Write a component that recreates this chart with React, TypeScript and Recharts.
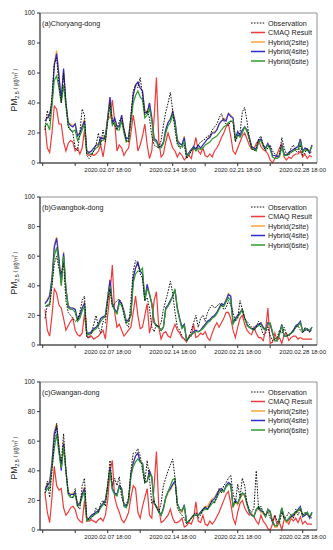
import React from "react";
import { LineChart, Line, XAxis, YAxis, ReferenceArea } from "recharts";

// 6-hourly samples, days since 2020.02.01 00:00
const TIME = Array.from({ length: 116 }, (_, i) => i * 0.25);

const X_TICKS = [-0.25, 3.25, 6.75, 10.25, 13.75, 17.25, 20.75, 24.25, 27.75];
const X_TICK_LABELS = ["", "", "2020.02.07 18:00", "", "2020.02.14 18:00", "", "2020.02.21 18:00", "", "2020.02.28 18:00"];
const Y_TICKS = [0, 20, 40, 60, 80, 100];

// (a) Choryang-dong
const CHORYANG_OBS = [
  22, 35, 28, 45, 66, 70, 52, 40, 60, 40,
  24, 22, 20, 10, 8, 20, 36, 32, 5, 3,
  5, 8, 12, 20, 12, 22, 14, 28, 40, 28,
  25, 22, 28, 30, 22, 15, 14, 32, 48, 52,
  50, 57, 45, 32, 35, 30, 18, 12, 11, 10,
  15, 25, 34, 40, 47, 35, 22, 12, 10, 10,
  12, 3, 5, 8, 10, 10, 12, 14, 15, 16,
  18, 18, 22, 24, 26, 30, 33, 28, 26, 25,
  28, 27, 14, 18, 20, 34, 37, 28, 16, 10,
  8, 10, 16, 18, 12, 8, 10, 12, 8, 6,
  5, 6, 17, 10, 6, 5, 10, 12, 8, 7,
  12, 5, 7, 10, 6, 8,
];
const CHORYANG_CMAQ = [
  25, 10, 7, 20, 38, 36, 26, 26, 14, 8,
  13, 15, 14, 8, 10, 6, 10, 22, 6, 5,
  6, 5, 6, 8, 12, 4, 14, 30, 30, 42,
  28, 8, 12, 10, 5, 8, 10, 20, 32, 22,
  8, 12, 18, 26, 12, 3, 8, 30, 57, 15,
  4, 6, 14, 20, 15, 10, 8, 4, 7, 5,
  2, 4, 5, 3, 10, 17, 8, 6, 10, 5,
  4, 6, 4, 8, 10, 13, 17, 20, 24, 26,
  18, 8, 6, 10, 14, 18, 20, 16, 12, 9,
  9, 13, 15, 11, 9, 8, 6, 2, 0, 3,
  6, 10, 13, 4, 2, 4, 3, 5, 6, 6,
  8, 4, 6, 3, 5, 4,
];
const CHORYANG_H2 = [
  28, 31, 33, 42, 67, 75, 60, 43, 62, 41,
  27, 26, 25, 26, 19, 20, 25, 29, 8, 7,
  8, 10, 12, 13, 17, 17, 18, 31, 44, 27,
  30, 25, 24, 32, 23, 16, 17, 31, 46, 52,
  53, 50, 48, 35, 34, 40, 31, 17, 15, 12,
  11, 14, 23, 27, 30, 35, 28, 16, 13, 12,
  18, 5, 7, 9, 11, 9, 12, 10, 12, 14,
  16, 18, 20, 21, 22, 26, 28, 30, 29, 33,
  32, 30, 16, 21, 19, 22, 24, 22, 17, 11,
  10, 9, 15, 16, 12, 10, 13, 10, 5, 5,
  4, 5, 12, 6, 5, 7, 8, 9, 10, 11,
  16, 8, 10, 9, 7, 12,
];
const CHORYANG_H4 = [
  28, 30, 32, 40, 65, 73, 58, 42, 63, 40,
  27, 25, 24, 26, 18, 20, 24, 28, 8, 7,
  8, 10, 12, 12, 17, 16, 18, 30, 44, 26,
  30, 24, 24, 32, 22, 16, 17, 30, 45, 52,
  54, 50, 48, 34, 33, 40, 30, 16, 15, 11,
  11, 14, 22, 27, 29, 34, 28, 15, 13, 12,
  17, 5, 7, 9, 11, 9, 12, 10, 12, 14,
  16, 17, 20, 20, 22, 26, 28, 29, 28, 33,
  31, 30, 16, 21, 18, 22, 24, 22, 17, 11,
  10, 9, 15, 16, 12, 10, 13, 10, 5, 5,
  4, 5, 12, 6, 5, 7, 8, 9, 10, 11,
  16, 8, 10, 9, 7, 12,
];
const CHORYANG_H6 = [
  25, 26, 22, 38, 55, 58, 50, 40, 52, 38,
  25, 22, 21, 22, 15, 18, 22, 26, 7, 6,
  6, 8, 10, 11, 15, 15, 17, 28, 40, 25,
  27, 22, 22, 28, 20, 14, 15, 27, 40, 45,
  48, 44, 42, 30, 32, 36, 28, 15, 14, 10,
  10, 13, 20, 25, 27, 32, 26, 14, 11, 11,
  14, 4, 6, 8, 10, 8, 10, 9, 10, 12,
  13, 14, 16, 17, 18, 20, 22, 24, 25, 27,
  28, 28, 15, 19, 17, 20, 24, 21, 16, 10,
  9, 8, 14, 15, 11, 9, 12, 9, 4, 3,
  3, 4, 11, 5, 5, 6, 7, 8, 9, 9,
  14, 7, 9, 8, 8, 11,
];

// (b) Gwangbok-dong
const GWANGBOK_OBS = [
  18, 27, 26, 40, 55, 60, 52, 48, 55, 30,
  22, 20, 18, 16, 17, 22, 30, 33, 5, 5,
  8, 14, 20, 12, 8, 16, 15, 30, 38, 26,
  28, 30, 31, 28, 20, 14, 12, 30, 50, 57,
  55, 48, 45, 30, 32, 25, 12, 9, 14, 12,
  15, 24, 30, 36, 43, 35, 22, 12, 10, 6,
  4, 3, 5, 10, 15, 20, 12, 18, 20, 16,
  22, 25, 27, 25, 26, 28, 27, 24, 25, 30,
  27, 22, 16, 18, 30, 24, 18, 16, 14, 12,
  10, 12, 16, 12, 7, 8, 12, 6, 3, 4,
  5, 10, 8, 12, 7, 6, 8, 10, 12, 13,
  10, 8, 12, 10, 9, 10,
];
const GWANGBOK_CMAQ = [
  24, 10, 6, 20, 38, 35, 27, 25, 18, 10,
  13, 16, 18, 10, 7, 6, 8, 21, 6, 5,
  6, 4, 5, 6, 8, 10, 4, 20, 35, 54,
  22, 12, 14, 10, 6, 8, 10, 12, 22, 33,
  20, 11, 12, 20, 28, 8, 15, 30, 36, 12,
  4, 8, 9, 6, 5, 10, 14, 10, 8, 5,
  4, 2, 6, 6, 14, 5, 6, 8, 7, 9,
  5, 3, 8, 12, 15, 12, 15, 18, 22, 22,
  18, 10, 5, 12, 18, 20, 14, 10, 8, 7,
  12, 8, 5, 5, 3, 10, 25, 1, 2, 8,
  3, 5, 1, 7, 8, 3, 5, 6, 6, 4,
  5, 4, 4, 4, 4, 4,
];
const GWANGBOK_H2 = [
  28, 31, 34, 46, 68, 73, 60, 40, 63, 39,
  27, 25, 25, 24, 18, 20, 25, 29, 8, 8,
  9, 11, 12, 14, 18, 19, 20, 32, 44, 28,
  24, 22, 30, 28, 23, 16, 17, 21, 46, 52,
  55, 50, 48, 31, 41, 34, 28, 15, 13, 12,
  10, 12, 25, 27, 30, 33, 37, 25, 18, 12,
  14, 3, 5, 7, 9, 10, 9, 10, 12, 14,
  16, 17, 19, 20, 22, 25, 28, 27, 31, 35,
  33, 15, 18, 20, 22, 24, 18, 14, 12, 11,
  11, 13, 14, 15, 12, 10, 15, 14, 8, 3,
  3, 8, 14, 6, 6, 7, 8, 10, 13, 14,
  16, 9, 10, 11, 9, 12,
];
const GWANGBOK_H4 = [
  28, 30, 33, 45, 66, 72, 58, 42, 62, 38,
  26, 25, 25, 24, 17, 20, 25, 28, 8, 8,
  9, 11, 12, 14, 18, 19, 20, 32, 44, 28,
  24, 22, 30, 28, 23, 16, 17, 20, 45, 52,
  56, 50, 48, 30, 41, 34, 28, 15, 13, 12,
  10, 12, 25, 27, 30, 33, 37, 25, 18, 12,
  14, 3, 5, 7, 9, 10, 9, 10, 12, 14,
  16, 17, 19, 20, 22, 25, 28, 27, 30, 34,
  33, 15, 18, 20, 22, 24, 18, 14, 12, 11,
  11, 13, 14, 15, 12, 10, 15, 14, 8, 3,
  3, 8, 14, 6, 6, 7, 8, 10, 13, 14,
  16, 9, 10, 11, 9, 12,
];
const GWANGBOK_H6 = [
  26, 27, 28, 42, 60, 66, 55, 40, 60, 38,
  25, 24, 24, 22, 16, 18, 23, 26, 7, 7,
  8, 10, 11, 13, 16, 18, 19, 30, 40, 27,
  23, 21, 28, 27, 22, 15, 16, 20, 42, 48,
  50, 50, 52, 30, 38, 35, 28, 16, 13, 12,
  10, 12, 24, 26, 29, 33, 38, 24, 17, 11,
  13, 3, 5, 7, 8, 9, 9, 10, 11, 13,
  15, 16, 18, 19, 21, 24, 27, 26, 29, 32,
  30, 14, 17, 19, 21, 24, 18, 13, 12, 11,
  10, 12, 13, 14, 11, 10, 14, 15, 9, 3,
  3, 7, 13, 6, 6, 7, 8, 9, 12, 13,
  15, 9, 11, 10, 10, 12,
];

// (c) Gwangan-dong
const GWANGAN_OBS = [
  25, 33, 22, 40, 60, 72, 55, 45, 65, 40,
  25, 23, 22, 28, 16, 14, 30, 35, 8, 7,
  8, 10, 15, 12, 18, 20, 16, 30, 47, 30,
  35, 30, 36, 22, 18, 17, 22, 40, 52, 52,
  55, 50, 40, 32, 47, 35, 18, 20, 15, 12,
  18, 30, 35, 40, 44, 48, 35, 15, 12, 10,
  8, 4, 6, 8, 10, 12, 8, 10, 14, 16,
  14, 17, 20, 18, 22, 28, 25, 30, 32, 35,
  37, 25, 18, 31, 22, 35, 30, 18, 14, 12,
  15, 40, 14, 16, 12, 10, 12, 8, 6, 10,
  6, 5, 12, 8, 9, 12, 10, 8, 14, 10,
  14, 10, 12, 10, 9, 8,
];
const GWANGAN_CMAQ = [
  25, 12, 5, 22, 43, 30, 27, 28, 15, 10,
  12, 15, 16, 14, 8, 6, 5, 20, 6, 6,
  7, 6, 5, 7, 8, 6, 10, 20, 40, 47,
  22, 16, 12, 7, 5, 8, 12, 22, 30, 28,
  12, 8, 16, 22, 28, 10, 8, 30, 53, 15,
  5, 6, 8, 10, 14, 8, 5, 5, 6, 8,
  2, 3, 5, 4, 8, 19, 6, 5, 10, 4,
  3, 6, 4, 6, 9, 12, 16, 20, 24, 26,
  18, 8, 4, 12, 18, 20, 15, 12, 10, 11,
  9, 6, 4, 10, 6, 4, 1, 0, 4, 10,
  3, 5, 0, 7, 6, 4, 8, 6, 8, 5,
  9, 4, 6, 4, 4, 4,
];
const GWANGAN_H2 = [
  28, 31, 33, 47, 67, 72, 57, 42, 60, 41,
  26, 24, 25, 25, 18, 18, 25, 29, 7, 8,
  10, 11, 12, 13, 16, 18, 20, 31, 43, 28,
  25, 24, 30, 28, 17, 16, 20, 38, 46, 50,
  52, 46, 45, 32, 33, 40, 35, 18, 15, 12,
  10, 14, 21, 25, 27, 30, 33, 18, 13, 12,
  16, 5, 6, 8, 10, 10, 10, 12, 14, 16,
  16, 19, 21, 22, 25, 27, 28, 26, 30, 32,
  31, 15, 19, 17, 21, 24, 23, 17, 12, 10,
  9, 13, 14, 12, 11, 9, 13, 11, 5, 2,
  2, 7, 14, 7, 5, 6, 8, 9, 11, 13,
  15, 9, 10, 11, 8, 11,
];
const GWANGAN_H4 = [
  27, 30, 32, 45, 65, 70, 55, 40, 58, 40,
  25, 24, 24, 25, 17, 18, 24, 28, 7, 8,
  10, 11, 12, 13, 16, 18, 20, 30, 42, 28,
  25, 24, 30, 28, 17, 16, 20, 38, 45, 50,
  52, 46, 45, 32, 33, 40, 36, 18, 16, 13,
  10, 15, 22, 26, 28, 31, 33, 18, 14, 13,
  17, 5, 6, 8, 10, 10, 10, 12, 14, 15,
  14, 17, 20, 21, 24, 27, 28, 26, 30, 32,
  31, 16, 20, 18, 22, 25, 24, 18, 12, 10,
  9, 14, 15, 13, 12, 9, 14, 12, 5, 3,
  3, 8, 15, 8, 6, 7, 9, 10, 12, 14,
  16, 9, 10, 12, 8, 12,
];
const GWANGAN_H6 = [
  25, 28, 28, 42, 55, 65, 52, 42, 56, 40,
  24, 22, 22, 24, 16, 17, 22, 26, 6, 7,
  9, 10, 11, 12, 15, 17, 19, 29, 40, 27,
  24, 23, 29, 27, 16, 15, 19, 36, 43, 46,
  48, 46, 45, 32, 33, 38, 36, 18, 16, 12,
  10, 14, 22, 26, 30, 34, 35, 18, 14, 13,
  16, 5, 6, 8, 10, 10, 10, 11, 13, 14,
  14, 16, 18, 19, 22, 25, 27, 26, 29, 31,
  30, 16, 19, 18, 22, 25, 24, 18, 13, 10,
  9, 14, 16, 14, 12, 9, 14, 13, 6, 3,
  3, 8, 15, 9, 6, 8, 10, 11, 12, 13,
  15, 10, 11, 12, 9, 12,
];

const FONT = '"Liberation Sans", Arial, "Noto Sans CJK KR", sans-serif';
const X_DOMAIN: [number, number] = [-0.54, 29.29];

const SERIES = [
  { key: "cmaq", label: "CMAQ Result", color: "#ef3b3b", dash: undefined },
  { key: "h2", label: "Hybrid(2site)", color: "#f5a43a", dash: undefined },
  { key: "h4", label: "Hybrid(4site)", color: "#2b2bd4", dash: undefined },
  { key: "h6", label: "Hybrid(6site)", color: "#2e9b2e", dash: undefined },
  { key: "obs", label: "Observation", color: "#111111", dash: "1.6 1.3" },
];
// legend order as in the figure
const LEGEND_ORDER = ["obs", "cmaq", "h2", "h4", "h6"];

const PANELS = [
  { title: "(a)Choryang-dong", top: 0, plotH: 150, obs: CHORYANG_OBS, cmaq: CHORYANG_CMAQ, h2: CHORYANG_H2, h4: CHORYANG_H4, h6: CHORYANG_H6 },
  { title: "(b)Gwangbok-dong", top: 184, plotH: 148, obs: GWANGBOK_OBS, cmaq: GWANGBOK_CMAQ, h2: GWANGBOK_H2, h4: GWANGBOK_H4, h6: GWANGBOK_H6 },
  { title: "(c)Gwangan-dong", top: 369, plotH: 148, obs: GWANGAN_OBS, cmaq: GWANGAN_CMAQ, h2: GWANGAN_H2, h4: GWANGAN_H4, h6: GWANGAN_H6 },
];

const PLOT_TOP = 13;
const AXIS_H = 22;

function Overlay({ title, plotH }: { title: string; plotH: number }) {
  const h = PLOT_TOP + plotH + AXIS_H;
  const legendY = PLOT_TOP + 10;
  return (
    <svg
      width={333}
      height={h}
      style={{ position: "absolute", left: 0, top: 0, pointerEvents: "none", fontFamily: FONT }}
    >
      <text x={42} y={PLOT_TOP + 12.5} fontSize={7.2} fill="#222">
        {title}
      </text>
      <text
        transform={`translate(17, ${PLOT_TOP + plotH / 2 + 2}) rotate(-90)`}
        textAnchor="middle"
        fontSize={8.5}
        fill="#222"
      >
        PM
        <tspan fontSize={5.5} dy={2}>2.5</tspan>
        <tspan fontSize={6} dy={-2} fill="#444"> ( ㎍/㎥ )</tspan>
      </text>
      {LEGEND_ORDER.map((k, i) => {
        const s = SERIES.find((d) => d.key === k)!;
        const y = legendY + i * 9.5;
        return (
          <g key={k}>
            <line
              x1={251}
              x2={265}
              y1={y}
              y2={y}
              stroke={s.color}
              strokeWidth={k === "obs" ? 1 : 1.5}
              strokeDasharray={s.dash}
            />
            <text x={268} y={y + 2.5} fontSize={7.2} fill="#222">
              {s.label}
            </text>
          </g>
        );
      })}
    </svg>
  );
}

function Panel({ p }: { p: (typeof PANELS)[number] }) {
  const data = TIME.map((t, i) => ({
    t,
    obs: p.obs[i],
    cmaq: p.cmaq[i],
    h2: p.h2[i],
    h4: p.h4[i],
    h6: p.h6[i],
  }));
  const h = PLOT_TOP + p.plotH + AXIS_H;
  return (
    <div style={{ position: "absolute", left: 0, top: p.top, width: 333, height: h }}>
      <LineChart width={333} height={h} data={data} margin={{ top: PLOT_TOP, right: 16, bottom: 0, left: 14 }}>
        <XAxis
          dataKey="t"
          type="number"
          domain={X_DOMAIN}
          allowDataOverflow
          ticks={X_TICKS}
          interval={0}
          tickFormatter={(v: number) => X_TICK_LABELS[X_TICKS.indexOf(v)] ?? ""}
          tick={{ fontSize: 6, fill: "#222" }}
          tickSize={3}
          height={AXIS_H}
          stroke="#333"
        />
        <YAxis
          domain={[0, 100]}
          ticks={Y_TICKS}
          interval={0}
          tick={{ fontSize: 6.5, fill: "#222" }}
          tickSize={3}
          width={26}
          stroke="#333"
        />
        <ReferenceArea x1={X_DOMAIN[0]} x2={X_DOMAIN[1]} y1={0} y2={100} fill="none" stroke="#777" strokeWidth={0.8} />
        {SERIES.map((s) => (
          <Line
            key={s.key}
            dataKey={s.key}
            type="linear"
            stroke={s.color}
            strokeWidth={s.key === "obs" ? 1 : 1.2}
            strokeDasharray={s.dash}
            dot={false}
            isAnimationActive={false}
          />
        ))}
      </LineChart>
      <Overlay title={p.title} plotH={p.plotH} />
    </div>
  );
}

export default function App() {
  return (
    <div
      style={{
        position: "absolute",
        left: 0,
        top: 0,
        width: 333,
        height: 550,
        background: "#fff",
        fontFamily: FONT,
      }}
    >
      {PANELS.map((p) => (
        <Panel key={p.title} p={p} />
      ))}
    </div>
  );
}
